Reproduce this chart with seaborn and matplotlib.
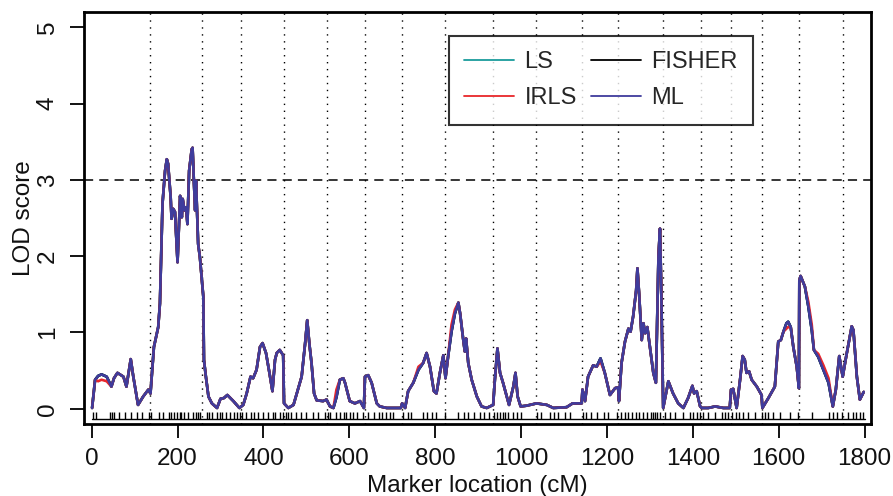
import matplotlib
matplotlib.use("Agg")
import matplotlib.pyplot as plt
import seaborn as sns


# DATA

# marker location (cM) and LOD score for the ML curve
pos = [1, 8, 15, 23, 35, 46, 52, 60, 74, 81, 91, 97, 108, 120, 132, 137,
       145, 155, 159, 165, 171, 175, 178, 184, 186, 190, 194, 200, 206, 210,
       212, 216, 220, 223, 227, 233, 235, 238, 241, 243, 248, 252, 260, 261.5,
       266, 272, 280, 292, 300, 308, 316, 330, 344, 353, 361, 370, 376, 384,
       392, 398, 406, 414, 421, 427, 431, 438, 446, 448, 458, 470, 489, 497,
       502, 507, 512, 518, 524, 539, 547, 555, 563, 570, 578, 582, 586, 590,
       601, 613, 625, 634, 636.5, 644, 652, 664, 671, 687, 706, 720, 723, 730,
       737, 749, 761, 772, 780, 788, 797, 803, 811, 819, 824, 830, 838, 846,
       854, 858, 865, 869, 872, 877, 885, 897, 908, 920, 935, 939, 945, 951,
       958, 972, 982, 987, 992, 999, 1013, 1036, 1060, 1075, 1106, 1120, 1141,
       1143, 1149, 1156, 1168, 1176, 1185, 1195, 1207, 1219, 1226, 1228, 1234,
       1242, 1250, 1255, 1261, 1268, 1271, 1275, 1281, 1285, 1289, 1294, 1300,
       1308, 1314, 1320, 1323.5, 1326, 1331, 1343, 1354, 1366, 1378, 1389,
       1399, 1403, 1409, 1417, 1421, 1436, 1452, 1471, 1486, 1489, 1494, 1502,
       1510, 1516, 1521, 1525, 1531, 1537, 1549, 1560, 1562, 1576, 1591, 1599,
       1605, 1611, 1618, 1622, 1628, 1634, 1642, 1647, 1648, 1651, 1661, 1669,
       1677, 1682, 1692, 1704, 1716, 1726, 1733, 1741, 1749, 1757, 1770, 1774,
       1782, 1789, 1798]

ml_lod = [0.01, 0.38, 0.43, 0.45, 0.42, 0.29, 0.40, 0.47, 0.42, 0.29, 0.65,
          0.42, 0.05, 0.16, 0.25, 0.20, 0.81, 1.07, 1.38, 2.69, 3.12, 3.27,
          3.21, 2.77, 2.49, 2.62, 2.58, 1.92, 2.79, 2.51, 2.75, 2.60, 2.64,
          2.42, 3.12, 3.40, 3.42, 2.99, 2.60, 2.99, 2.16, 1.99, 1.47, 0.64,
          0.42, 0.16, 0.07, 0.01, 0.13, 0.14, 0.18, 0.10, 0.01, 0.05, 0.20,
          0.42, 0.40, 0.51, 0.81, 0.86, 0.73, 0.47, 0.23, 0.64, 0.73, 0.77,
          0.70, 0.07, 0.01, 0.05, 0.42, 0.85, 1.16, 0.85, 0.60, 0.20, 0.11,
          0.10, 0.12, 0.03, 0.01, 0.15, 0.38, 0.39, 0.40, 0.34, 0.10, 0.07,
          0.10, 0.01, 0.42, 0.44, 0.34, 0.07, 0.03, 0.01, 0.01, 0.01, 0.07,
          0.01, 0.23, 0.34, 0.51, 0.60, 0.73, 0.55, 0.23, 0.20, 0.47, 0.70,
          0.40, 0.68, 1.01, 1.25, 1.39, 1.25, 0.92, 0.75, 0.92, 0.60, 0.38,
          0.16, 0.03, 0.01, 0.05, 0.38, 0.79, 0.47, 0.34, 0.05, 0.29, 0.47,
          0.16, 0.03, 0.04, 0.07, 0.05, 0.01, 0.02, 0.07, 0.07, 0.25, 0.10,
          0.42, 0.57, 0.55, 0.66, 0.47, 0.18, 0.27, 0.28, 0.10, 0.60, 0.88,
          1.05, 1.01, 1.21, 1.55, 1.84, 1.50, 0.90, 1.12, 0.99, 1.07, 0.81,
          0.47, 0.34, 2.00, 2.36, 1.70, 0.01, 0.36, 0.20, 0.07, 0.01, 0.14,
          0.30, 0.20, 0.23, 0.03, 0.01, 0.01, 0.03, 0.01, 0.01, 0.25, 0.26,
          0.01, 0.38, 0.69, 0.64, 0.47, 0.49, 0.38, 0.29, 0.18, 0.01, 0.14,
          0.29, 0.88, 0.90, 1.01, 1.12, 1.14, 1.07, 0.81, 0.55, 0.27, 1.68,
          1.74, 1.60, 1.34, 1.03, 0.77, 0.68, 0.51, 0.34, 0.03, 0.25, 0.69,
          0.42, 0.68, 1.08, 1.03, 0.42, 0.12, 0.22]

# LS and FISHER lie exactly under the ML curve in the picture
ls_lod = list(ml_lod)
fisher_lod = list(ml_lod)

# IRLS only departs from ML in a few places
irls_diff = {15: 0.36, 23: 0.38, 35: 0.36, 570: 0.25, 761: 0.55, 838: 1.10,
             846: 1.30, 1185: 0.62, 1618: 1.05, 1622: 1.07, 1669: 1.40,
             1677: 1.10, 1692: 0.72, 1704: 0.57, 1716: 0.40}
irls_lod = [irls_diff.get(p, v) for p, v in zip(pos, ml_lod)]

# chromosome boundaries (dotted lines)
boundaries = [137, 258, 347, 447, 548, 636, 723, 824, 934, 1035, 1141, 1225,
              1330, 1418, 1488, 1560, 1647, 1749]

# marker positions (rug)
markers = [2, 9, 42, 48, 52, 64, 77, 91, 106, 118, 133, 139, 157, 165, 180,
           185, 191, 199, 205, 209, 214, 224, 236, 242, 248, 253, 269, 273,
           281, 292, 298, 304, 312, 321, 331, 338, 346, 351, 360, 372, 378,
           387, 399, 411, 422, 428, 438, 446, 452, 457, 465, 477, 488, 498,
           515, 527, 543, 550, 554, 570, 578, 587, 593, 601, 608, 619, 633,
           644, 657, 668, 675, 685, 695, 702, 724, 737, 744, 772, 782, 792,
           803, 823, 854, 866, 877, 890, 904, 914, 926, 937, 943, 951, 957,
           963, 970, 982, 990, 1001, 1036, 1046, 1067, 1077, 1087, 1102, 1114,
           1144, 1151, 1162, 1176, 1192, 1203, 1223, 1233, 1242, 1250, 1258,
           1267, 1275, 1285, 1293, 1303, 1308, 1312, 1316, 1324, 1335, 1347,
           1358, 1378, 1393, 1401, 1409, 1417, 1424, 1436, 1452, 1467, 1475,
           1483, 1491, 1500, 1508, 1518, 1529, 1545, 1560, 1568, 1576, 1587,
           1603, 1626, 1646, 1677, 1716, 1727, 1735, 1747, 1762, 1772, 1779,
           1789, 1797]

x_ticks = [0, 200, 400, 600, 800, 1000, 1200, 1400, 1600, 1800]
y_ticks = [0, 1, 2, 3, 4, 5]
threshold = 3

# series: name, values, colour  (drawing order, ML on top)
series = [
    ("LS", ls_lod, "#1a9c9c"),
    ("FISHER", fisher_lod, "#000000"),
    ("IRLS", irls_lod, "#e8262a"),
    ("ML", ml_lod, "#3f3c9c"),
]
legend_order = ["LS", "IRLS", "FISHER", "ML"]


# PLOT

sns.set_theme(style="white")
plt.rcParams["font.family"] = ["Liberation Sans", "DejaVu Sans"]

fig = plt.figure(figsize=(8.93, 4.96), dpi=100)
ax = fig.add_axes([0.0937, 0.1452, 0.8817, 0.8306])

# chromosome boundaries
for b in boundaries:
    ax.axvline(b, color="black", lw=1.0, linestyle=(0, (1, 4)), zorder=1)

# threshold
ax.axhline(threshold, color="black", lw=1.1, linestyle=(0, (6, 4)), zorder=1)

# rug of markers
ax.vlines(markers, -0.13, -0.045, color="black", lw=1.0, zorder=2)
ax.plot([0, 1800], [-0.13, -0.13], color="black", lw=1.0, zorder=2)

handles = {}
for name, vals, col in series:
    sns.lineplot(x=pos, y=vals, color=col, lw=1.9, ax=ax, sort=False,
                 estimator=None, legend=False, zorder=3)
    handles[name] = ax.lines[-1]

leg = ax.legend([handles[n] for n in legend_order], legend_order, ncol=2,
                loc="upper left", bbox_to_anchor=(0.464, 0.942),
                borderaxespad=0, fontsize=17, frameon=True, fancybox=False,
                edgecolor="black", handlelength=2.1, handletextpad=0.45,
                columnspacing=0.6, labelspacing=0.6, borderpad=0.65)
leg.get_frame().set_linewidth(1.5)
for line in leg.get_lines():
    line.set_linewidth(1.3)

ax.set_xlim(-18.6, 1815)
ax.set_ylim(-0.2, 5.2)
ax.set_xticks(x_ticks)
ax.set_yticks(y_ticks)
ax.set_xticklabels([str(t) for t in x_ticks])
ax.set_yticklabels([str(t) for t in y_ticks], rotation=90, va="center")
ax.tick_params(axis="both", direction="out", length=10, width=1.3,
               labelsize=17.5, color="black", labelcolor="#111111",
               bottom=True, left=True)
ax.tick_params(axis="x", pad=7)
ax.tick_params(axis="y", pad=8)

for sp in ax.spines.values():
    sp.set_color("black")
    sp.set_linewidth(2.0)

ax.set_xlabel("Marker location (cM)", fontsize=17.5, labelpad=4, color="#111111")
ax.set_ylabel("LOD score", fontsize=17.5, labelpad=1, color="#111111")

fig.savefig("out.png", dpi=100)
